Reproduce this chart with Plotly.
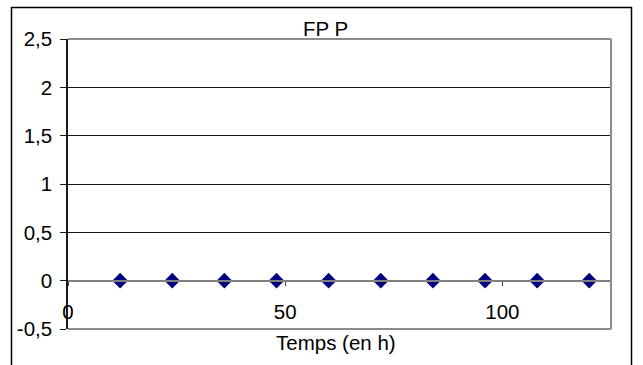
import plotly.graph_objects as go

# Measurement times (h) and FP P values
temps_h = [12, 24, 36, 48, 60, 72, 84, 96, 108, 120]
fpp = [0, 0, 0, 0, 0, 0, 0, 0, 0, 0]

# Axis ticks
y_ticks = [-0.5, 0, 0.5, 1, 1.5, 2, 2.5]
y_tick_labels = ["-0,5", "0", "0,5", "1", "1,5", "2", "2,5"]
x_ticks = [0, 50, 100]
x_tick_labels = ["0", "50", "100"]

W, H = 643, 365
ML, MR, MT, MB = 68, 32, 39, 36
PW, PH = W - ML - MR, H - MT - MB
Y_RANGE = [-0.5, 2.5]
X_RANGE = [0, 125]

FONT = dict(family="Liberation Sans, Arial, sans-serif", size=20.5, color="#000000")
BORDER_GREY = "#8c8c8c"


def px_x(px):
    return (px - ML) / PW


def px_y(py):
    return (H - MB - py) / PH


fig = go.Figure()

fig.add_trace(go.Scatter(
    x=temps_h, y=fpp, mode="markers",
    marker=dict(symbol="diamond", size=12, color="#000080", line=dict(width=0)),
    showlegend=False, cliponaxis=False,
))

# x axis sits on y = 0, as a free axis inside the plot area
zero_pos = (0 - Y_RANGE[0]) / (Y_RANGE[1] - Y_RANGE[0])

fig.update_layout(
    width=W, height=H,
    margin=dict(l=ML, r=MR, t=MT, b=MB, pad=0),
    paper_bgcolor="white", plot_bgcolor="white",
    font=FONT,
    showlegend=False,
    xaxis=dict(
        range=X_RANGE, anchor="free", position=zero_pos,
        tickvals=x_ticks, ticktext=x_tick_labels,
        showgrid=False, zeroline=False,
        showline=True, linecolor="#808080", linewidth=2,
        ticks="outside", ticklen=4, tickcolor="#404040", tickwidth=1,
        ticklabelstandoff=9,
        fixedrange=True,
    ),
    yaxis=dict(
        range=Y_RANGE, domain=[0, 1],
        tickvals=y_ticks, ticktext=y_tick_labels,
        showgrid=True, gridcolor="#1a1a1a", gridwidth=1,
        zeroline=False,
        showline=True, linecolor="#1a1a1a", linewidth=1.5,
        ticks="outside", ticklen=6, tickcolor="#1a1a1a", tickwidth=1,
        ticklabelstandoff=4,
        fixedrange=True,
    ),
    annotations=[
        dict(text="FP P", xref="paper", yref="paper",
             x=px_x(325), y=px_y(28), xanchor="center", yanchor="middle",
             showarrow=False, font=FONT),
        # axis title drawn as an annotation so it can sit below the plot frame
        dict(text="Temps (en h)", xref="paper", yref="paper",
             x=px_x(336), y=px_y(342), xanchor="center", yanchor="middle",
             showarrow=False, font=FONT),
    ],
    shapes=[
        # plot-area frame: top, right, bottom
        dict(type="line", xref="paper", yref="paper", x0=0, x1=1, y0=1, y1=1,
             line=dict(color=BORDER_GREY, width=2), layer="above"),
        dict(type="line", xref="paper", yref="paper", x0=1, x1=1, y0=0, y1=1,
             line=dict(color=BORDER_GREY, width=2), layer="above"),
        dict(type="line", xref="paper", yref="paper", x0=0, x1=1, y0=0, y1=0,
             line=dict(color=BORDER_GREY, width=2), layer="above"),
        # chart frame
        dict(type="rect", xref="paper", yref="paper",
             x0=px_x(11.5), x1=px_x(631.5), y0=px_y(H + 20), y1=px_y(7.5),
             line=dict(color="#000000", width=1.5), fillcolor="rgba(0,0,0,0)",
             layer="above"),
    ],
)

fig.write_html("out.html")
